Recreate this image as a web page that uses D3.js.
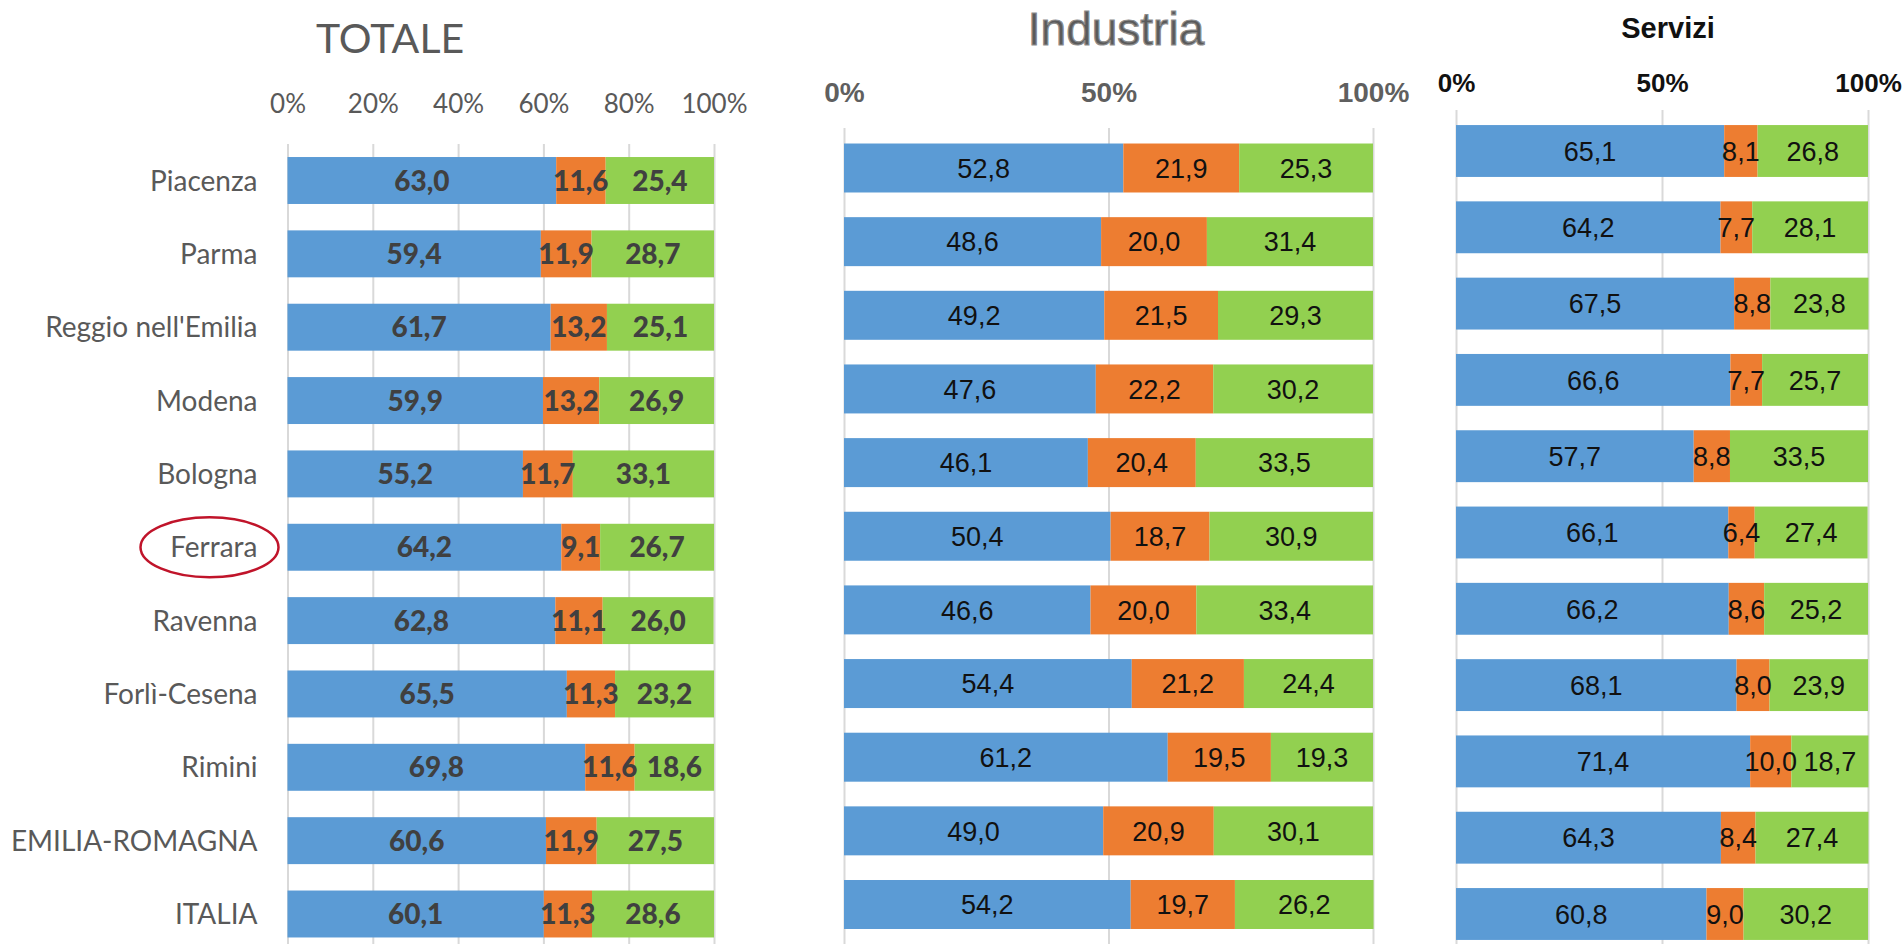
<!DOCTYPE html>
<html>
<head>
<meta charset="utf-8">
<script src="https://cdn.jsdelivr.net/npm/d3@7"></script>
<style>
  body { margin: 0; background: #fff; }
  svg { display: block; }
</style>
</head>
<body>
<div id="chart-area"></div>
<script>
var categories = ["Piacenza", "Parma", "Reggio nell'Emilia", "Modena", "Bologna", "Ferrara",
	"Ravenna", "Forlì-Cesena", "Rimini", "EMILIA-ROMAGNA", "ITALIA"];

var totBlu     = [63.0, 59.4, 61.7, 59.9, 55.2, 64.2, 62.8, 65.5, 69.8, 60.6, 60.1];
var totArancio = [11.6, 11.9, 13.2, 13.2, 11.7,  9.1, 11.1, 11.3, 11.6, 11.9, 11.3];
var totVerde   = [25.4, 28.7, 25.1, 26.9, 33.1, 26.7, 26.0, 23.2, 18.6, 27.5, 28.6];

var indBlu     = [52.8, 48.6, 49.2, 47.6, 46.1, 50.4, 46.6, 54.4, 61.2, 49.0, 54.2];
var indArancio = [21.9, 20.0, 21.5, 22.2, 20.4, 18.7, 20.0, 21.2, 19.5, 20.9, 19.7];
var indVerde   = [25.3, 31.4, 29.3, 30.2, 33.5, 30.9, 33.4, 24.4, 19.3, 30.1, 26.2];

var serBlu     = [65.1, 64.2, 67.5, 66.6, 57.7, 66.1, 66.2, 68.1, 71.4, 64.3, 60.8];
var serArancio = [ 8.1,  7.7,  8.8,  7.7,  8.8,  6.4,  8.6,  8.0, 10.0,  8.4,  9.0];
var serVerde   = [26.8, 28.1, 23.8, 25.7, 33.5, 27.4, 25.2, 23.9, 18.7, 27.4, 30.2];

var ticksTotale = [0, 20, 40, 60, 80, 100];
var ticksSettore = [0, 50, 100];

var colors = ["#5B9BD5", "#ED7D31", "#92D050"];

var width = 1904;
var height = 944;

var calibri = "Lato, 'Open Sans', sans-serif";
var arial = "'Liberation Sans', Arial, sans-serif";

var svg = d3.select("#chart-area")
	.append("svg")
	.attr("width", width)
	.attr("height", height);

var fmt = d => d3.format(".1f")(d).replace(".", ",");

var panels = [
	{
		title: "TOTALE", series: [totBlu, totArancio, totVerde], ticks: ticksTotale,
		x0: 287.5, x1: 714, gridTop: 144, c0: 180.5, step: 73.35, pad: 0.36, tickPad: 31,
		titleX: 390, titleY: 53, titleFont: calibri, titleSize: 41, titleWeight: "normal", titleColor: "#595959", titleStroke: 0,
		tickFont: calibri, tickSize: 26, tickWeight: "normal", tickColor: "#595959",
		valFont: calibri, valSize: 28, valWeight: 900, valColor: "#404040",
		showCats: true
	},
	{
		title: "Industria", series: [indBlu, indArancio, indVerde], ticks: ticksSettore,
		x0: 844, x1: 1373, gridTop: 128, c0: 168, step: 73.65, pad: 0.335, tickPad: 26,
		titleX: 1116, titleY: 45, titleFont: arial, titleSize: 46, titleWeight: "normal", titleColor: "#5a5a5a", titleStroke: 1.2,
		tickFont: arial, tickSize: 28, tickWeight: "bold", tickColor: "#5f5f5f",
		valFont: arial, valSize: 27, valWeight: "normal", valColor: "#111",
		showCats: false
	},
	{
		title: "Servizi", series: [serBlu, serArancio, serVerde], ticks: ticksSettore,
		x0: 1456, x1: 1868, gridTop: 110, c0: 151, step: 76.3, pad: 0.32, tickPad: 18,
		titleX: 1668, titleY: 38, titleFont: arial, titleSize: 29, titleWeight: "bold", titleColor: "#111", titleStroke: 0,
		tickFont: arial, tickSize: 26, tickWeight: "bold", tickColor: "#111",
		valFont: arial, valSize: 27, valWeight: "normal", valColor: "#111",
		showCats: false
	}
];

panels.forEach(function (p) {
	var g = svg.append("g");

	var xScale = d3.scaleLinear()
		.domain([0, 100])
		.range([p.x0, p.x1]);

	var n = categories.length;
	var yScale = d3.scaleBand()
		.domain(categories)
		.range([p.c0 - p.step / 2, p.c0 + (n - 0.5) * p.step])
		.paddingInner(p.pad)
		.paddingOuter(p.pad / 2);

	// grid + tick labels
	var xAxis = d3.axisTop(xScale)
		.tickValues(p.ticks)
		.tickFormat(d => d + "%")
		.tickSize(-(height - p.gridTop))
		.tickPadding(p.tickPad);

	var axisG = g.append("g")
		.attr("transform", "translate(0," + p.gridTop + ")")
		.call(xAxis);
	axisG.select(".domain").remove();
	axisG.selectAll(".tick line")
		.attr("stroke", "#D9D9D9")
		.attr("stroke-width", 2);
	axisG.selectAll(".tick text")
		.attr("fill", p.tickColor)
		.attr("font-family", p.tickFont)
		.attr("font-size", p.tickSize)
		.attr("font-weight", p.tickWeight);

	g.append("text")
		.attr("x", p.titleX)
		.attr("y", p.titleY)
		.attr("text-anchor", "middle")
		.attr("font-family", p.titleFont)
		.attr("font-size", p.titleSize)
		.attr("font-weight", p.titleWeight)
		.attr("fill", p.titleColor)
		.attr("stroke", p.titleStroke ? "#8c8c8c" : "none")
		.attr("stroke-width", p.titleStroke)
		.text(p.title);

	// stacked rows
	var rows = categories.map(function (c, i) {
		var start = 0;
		return p.series.map(function (s, k) {
			var seg = { cat: c, k: k, v: s[i], x0: start, x1: start + s[i] };
			start += s[i];
			return seg;
		});
	});
	var segs = rows.flat();

	g.selectAll("rect.bar")
		.data(segs)
		.enter().append("rect")
		.attr("class", "bar")
		.attr("x", d => xScale(d.x0))
		.attr("y", d => yScale(d.cat))
		.attr("width", d => xScale(d.x1) - xScale(d.x0))
		.attr("height", yScale.bandwidth())
		.attr("fill", d => colors[d.k]);

	g.selectAll("text.val")
		.data(segs)
		.enter().append("text")
		.attr("class", "val")
		.attr("x", d => xScale((d.x0 + d.x1) / 2))
		.attr("y", d => yScale(d.cat) + yScale.bandwidth() / 2)
		.attr("dy", "0.36em")
		.attr("text-anchor", "middle")
		.attr("font-family", p.valFont)
		.attr("font-size", p.valSize)
		.attr("font-weight", p.valWeight)
		.attr("fill", p.valColor)
		.text(d => fmt(d.v));

	if (p.showCats) {
		g.selectAll("text.cat")
			.data(categories)
			.enter().append("text")
			.attr("class", "cat")
			.attr("x", p.x0 - 30)
			.attr("y", d => yScale(d) + yScale.bandwidth() / 2)
			.attr("dy", "0.36em")
			.attr("text-anchor", "end")
			.attr("font-family", calibri)
			.attr("font-size", 28)
			.attr("fill", "#595959")
			.text(d => d);

		// highlight Ferrara
		g.append("ellipse")
			.attr("cx", p.x0 - 78)
			.attr("cy", yScale("Ferrara") + yScale.bandwidth() / 2)
			.attr("rx", 69)
			.attr("ry", 30)
			.attr("fill", "none")
			.attr("stroke", "#C0142A")
			.attr("stroke-width", 2.5);
	}
});
</script>
</body>
</html>
